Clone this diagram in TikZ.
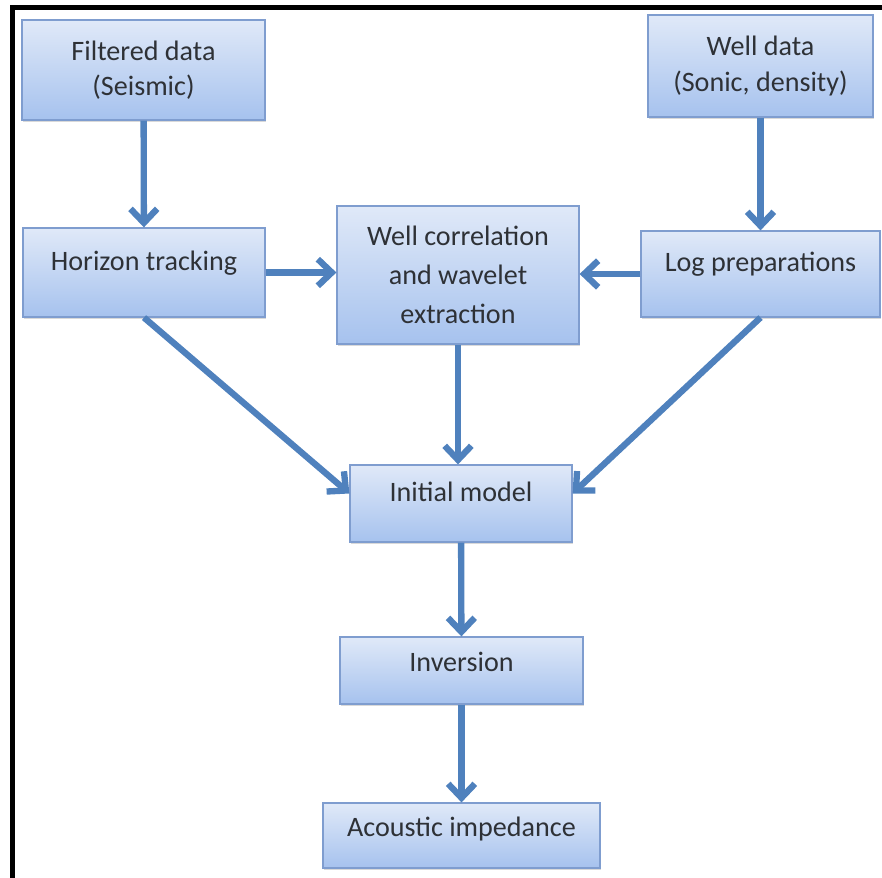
\documentclass[tikz,border=0pt]{standalone}
\usepackage{fontspec}
\setmainfont{Carlito}
\usepackage{xcolor}
\usetikzlibrary{arrows.meta, shadows}

\definecolor{boxtop}{HTML}{E0E9F8}
\definecolor{boxbot}{HTML}{A6C2EE}
\definecolor{boxline}{HTML}{7F9DCF}
\definecolor{flowblue}{HTML}{4F81BD}
\definecolor{textgray}{HTML}{2E3136}

\begin{document}
\begin{tikzpicture}[x=0.03cm, y=-0.03cm,
  box/.style={draw=boxline, line width=1pt, top color=boxtop, bottom color=boxbot,
    inner sep=0pt, align=center, text=textgray,
    font=\fontsize{24}{30}\selectfont,
    drop shadow={shadow xshift=0.04cm, shadow yshift=-0.06cm, opacity=0.3}},
  lift/.style={text height=0.75em, text depth=#1},
  flow/.style={draw=flowblue, line width=0.19cm,
    -{Straight Barb[length=0.42cm, width=0.8cm]}}]
  \useasboundingbox (0,0) rectangle (882,878);
  \draw[line width=0.15cm] (12,878) -- (12,8) -- (882,8);

  \node[box, minimum width=7.29cm, minimum height=3.00cm] (filt) at (143.5,70) {Filtered data\\(Seismic)};
  \node[box, minimum width=6.75cm, minimum height=3.06cm] (well) at (760.5,66) {Well data\\(Sonic, density)};
  \node[box, lift=1.15em, minimum width=7.26cm, minimum height=2.67cm] (horiz) at (144,272.5) {Horizon tracking};
  \node[box, lift=1.25em, minimum width=7.17cm, minimum height=2.58cm] (logprep) at (760.5,274) {Log preparations};
  \node[box, font=\fontsize{24}{33}\selectfont, minimum width=7.26cm, minimum height=4.14cm] (corr) at (458,275)
    {Well correlation\\and wavelet\\extraction};
  \node[box, lift=1.07em, minimum width=6.66cm, minimum height=2.31cm] (init) at (461,503.5) {Initial model};
  \node[box, lift=0.65em, minimum width=7.29cm, minimum height=2.01cm] (inv) at (461.5,670.5) {Inversion};
  \node[box, lift=0.5em, minimum width=8.31cm, minimum height=1.95cm] (acou) at (461.5,835.5) {Acoustic impedance};

  \draw[flow] (filt) -- (horiz);
  \draw[flow] (well) -- (logprep);
  \draw[flow] (horiz.east) -- (horiz.east -| corr.west);
  \draw[flow] (logprep.west) -- (logprep.west -| corr.east);
  \draw[flow] (corr.south) -- (corr.south |- init.north);
  \draw[flow] (horiz.south) -- ([yshift=3mm]init.west);
  \draw[flow] (logprep.south) -- ([yshift=3mm]init.east);
  \draw[flow] (init) -- (inv);
  \draw[flow] (inv) -- (acou);
\end{tikzpicture}
\end{document}
